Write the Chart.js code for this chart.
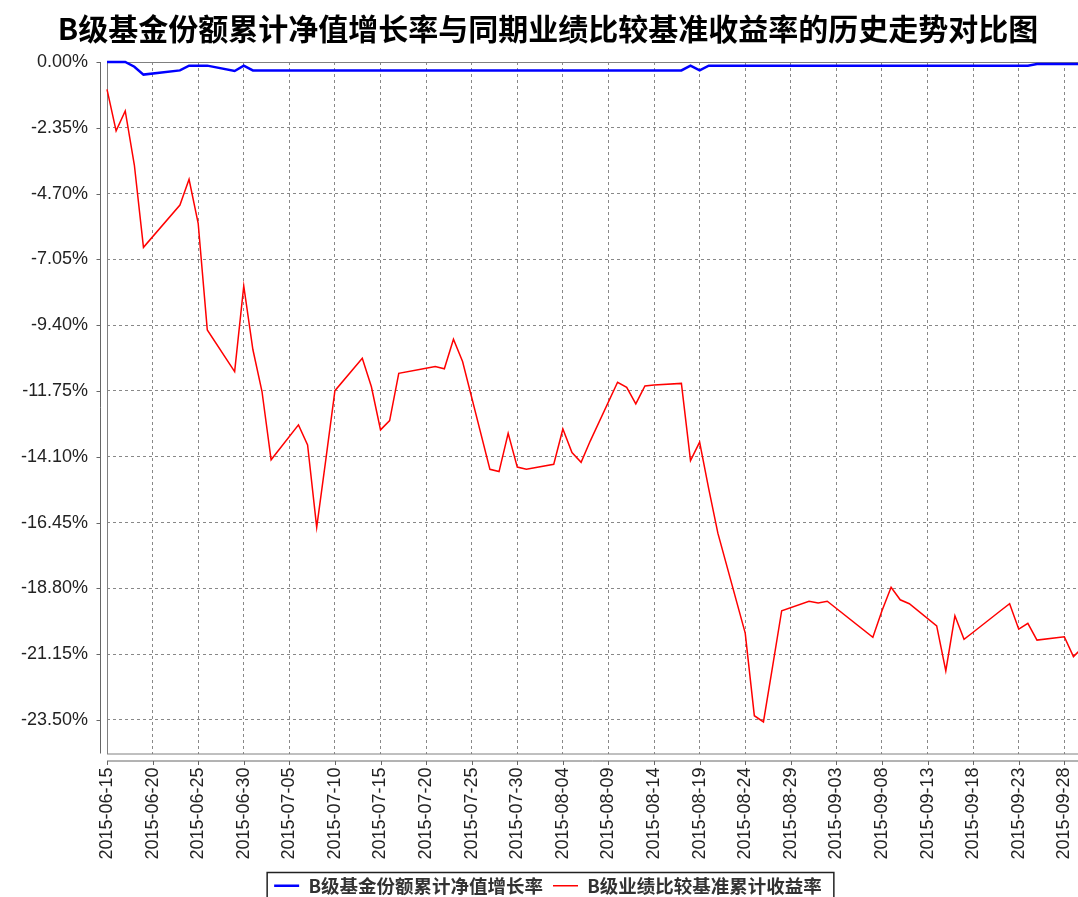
<!DOCTYPE html>
<html>
<head>
<meta charset="utf-8">
<script src="https://cdn.jsdelivr.net/npm/chart.js@4.4.0/dist/chart.umd.min.js"></script>
<style>
  html, body { margin: 0; padding: 0; background: #fff; overflow: hidden; }
</style>
</head>
<body>
<canvas id="chart" width="1078" height="897"></canvas>
<script>
// trading days shown in the chart
const dates = [
  '2015-06-15','2015-06-16','2015-06-17','2015-06-18','2015-06-19','2015-06-23','2015-06-24','2015-06-25','2015-06-26','2015-06-29','2015-06-30',
  '2015-07-01','2015-07-02','2015-07-03','2015-07-06','2015-07-07','2015-07-08','2015-07-09','2015-07-10','2015-07-13','2015-07-14','2015-07-15','2015-07-16','2015-07-17',
  '2015-07-20','2015-07-21','2015-07-22','2015-07-23','2015-07-24','2015-07-27','2015-07-28','2015-07-29','2015-07-30','2015-07-31',
  '2015-08-03','2015-08-04','2015-08-05','2015-08-06','2015-08-07','2015-08-10','2015-08-11','2015-08-12','2015-08-13','2015-08-14',
  '2015-08-17','2015-08-18','2015-08-19','2015-08-20','2015-08-21','2015-08-24','2015-08-25','2015-08-26','2015-08-27','2015-08-28','2015-08-31',
  '2015-09-01','2015-09-02','2015-09-07','2015-09-08','2015-09-09','2015-09-10','2015-09-11','2015-09-14','2015-09-15','2015-09-16','2015-09-17','2015-09-18',
  '2015-09-21','2015-09-22','2015-09-23','2015-09-24','2015-09-25','2015-09-28','2015-09-29','2015-09-30'
];

// B级基金份额累计净值增长率 (%)
const navGrowth = [
  0, 0, 0, -0.17, -0.45, -0.30, -0.13, -0.13, -0.13, -0.32, -0.13,
  -0.30, -0.30, -0.30, -0.30, -0.30, -0.30, -0.30, -0.30, -0.30, -0.30, -0.30, -0.30, -0.30,
  -0.30, -0.30, -0.30, -0.30, -0.30, -0.30, -0.30, -0.30, -0.30, -0.30,
  -0.30, -0.30, -0.30, -0.30, -0.30, -0.30, -0.30, -0.30, -0.30, -0.30,
  -0.30, -0.13, -0.30, -0.13, -0.13, -0.13, -0.13, -0.13, -0.13, -0.13, -0.13,
  -0.13, -0.13, -0.13, -0.13, -0.13, -0.13, -0.13, -0.13, -0.13, -0.13, -0.13, -0.13,
  -0.13, -0.13, -0.13, -0.13, -0.07, -0.07, -0.07, -0.07
];

// B级业绩比较基准累计收益率 (%)
const benchmark = [
  -0.98, -2.46, -1.75, -3.68, -6.62, -5.11, -4.19, -5.76, -9.57, -11.06, -8.00,
  -10.27, -11.77, -14.21, -12.96, -13.68, -16.62, -14.20, -11.74, -10.58, -11.60, -13.14, -12.81, -11.12,
  -10.94, -10.88, -10.96, -9.90, -10.70, -14.55, -14.63, -13.26, -14.47, -14.55,
  -14.37, -13.11, -13.95, -14.30, -13.54, -11.44, -11.62, -12.21, -11.57, -11.54,
  -11.48, -14.24, -13.58, -15.25, -16.83, -20.40, -23.35, -23.57, -21.60, -19.60, -19.26,
  -19.32, -19.26, -20.55, -19.60, -18.76, -19.21, -19.35, -20.14, -21.75, -19.78, -20.62, -20.37,
  -19.60, -19.35, -20.26, -20.05, -20.65, -20.53, -21.24, -20.92
];

const xTickLabels = [
  '2015-06-15','2015-06-20','2015-06-25','2015-06-30','2015-07-05','2015-07-10','2015-07-15','2015-07-20',
  '2015-07-25','2015-07-30','2015-08-04','2015-08-09','2015-08-14','2015-08-19','2015-08-24','2015-08-29',
  '2015-09-03','2015-09-08','2015-09-13','2015-09-18','2015-09-23','2015-09-28'
];
const yTickValues = [0, -2.35, -4.70, -7.05, -9.40, -11.75, -14.10, -16.45, -18.80, -21.15, -23.50];

// days since the first date, used as the linear x value
const t0 = Date.UTC(2015, 5, 15);
const toDay = s => (Date.UTC(+s.slice(0, 4), +s.slice(5, 7) - 1, +s.slice(8, 10)) - t0) / 86400000;

const tickFont = { family: "'Liberation Sans', Arial, sans-serif", size: 18 };

// plot frame plus the offset axis lines with their tick marks
const frame = {
  id: 'frame',
  beforeDatasetsDraw(chart) {
    const { ctx, chartArea: a, scales: { x, y } } = chart;
    ctx.save();
    ctx.setLineDash([]);
    ctx.lineWidth = 1;
    ctx.strokeStyle = '#808080';
    ctx.strokeRect(a.left + 0.5, a.top + 0.5, a.width, a.bottom - a.top);
    ctx.strokeStyle = '#666';
    ctx.beginPath();
    const ax = a.left - 6.5;
    ctx.moveTo(ax, a.top);
    ctx.lineTo(ax, a.bottom);
    y.ticks.forEach(t => {
      const py = Math.round(y.getPixelForValue(t.value)) + 0.5;
      ctx.moveTo(ax - 4, py);
      ctx.lineTo(ax, py);
    });
    const ay = a.bottom + 7.5;
    ctx.moveTo(a.left, ay);
    ctx.lineTo(a.right, ay);
    x.ticks.forEach(t => {
      const px = Math.round(x.getPixelForValue(t.value)) + 0.5;
      ctx.moveTo(px, ay);
      ctx.lineTo(px, ay + 4);
    });
    ctx.stroke();
    ctx.restore();
  }
};

// box around the legend
const legendBox = {
  id: 'legendBox',
  afterDraw(chart) {
    const boxes = chart.legend.legendHitBoxes;
    if (!boxes || !boxes.length) return;
    const first = boxes[0], last = boxes[boxes.length - 1];
    const l = first.left - 7, r = last.left + last.width + 12, t = first.top - 4;
    const ctx = chart.ctx;
    ctx.save();
    ctx.lineWidth = 1.5;
    ctx.strokeStyle = '#222';
    ctx.strokeRect(l, t, r - l, 60);
    ctx.restore();
  }
};

new Chart(document.getElementById('chart'), {
  type: 'line',
  data: {
    datasets: [{
      label: 'B级基金份额累计净值增长率',
      data: dates.map((d, i) => ({ x: toDay(d), y: navGrowth[i] })),
      borderColor: '#0000ff',
      backgroundColor: '#0000ff',
      borderWidth: 2.5,
      pointRadius: 0,
      tension: 0,
      clip: false
    }, {
      label: 'B级业绩比较基准累计收益率',
      data: dates.map((d, i) => ({ x: toDay(d), y: benchmark[i] })),
      borderColor: '#ff0000',
      backgroundColor: '#ff0000',
      borderWidth: 1.5,
      pointRadius: 0,
      tension: 0,
      clip: false
    }]
  },
  options: {
    responsive: false,
    animation: false,
    devicePixelRatio: 1,
    layout: { padding: { left: 18, right: 0, top: 0, bottom: -8 } },
    plugins: {
      title: {
        display: true,
        text: 'B级基金份额累计净值增长率与同期业绩比较基准收益率的历史走势对比图',
        color: '#000',
        font: { family: "'Noto Sans CJK SC', sans-serif", size: 30, weight: 'bold' },
        padding: { top: 11, bottom: 15 }
      },
      legend: {
        position: 'bottom',
        labels: {
          usePointStyle: true,
          pointStyle: 'line',
          pointStyleWidth: 25,
          padding: 10,
          color: '#333',
          font: { family: "'Noto Sans CJK SC', sans-serif", size: 18.5, weight: 'bold' }
        }
      },
      tooltip: { enabled: false }
    },
    scales: {
      x: {
        type: 'linear',
        min: 0,
        max: 106.5,
        afterBuildTicks: s => { s.ticks = xTickLabels.map(l => ({ value: toDay(l) })); },
        afterFit: s => { s.height = 113; s.paddingLeft = 0; s.paddingRight = 0; },
        ticks: {
          autoSkip: false,
          minRotation: 90,
          maxRotation: 90,
          padding: 14,
          color: '#222',
          font: tickFont,
          callback: (v, i) => xTickLabels[i]
        },
        grid: { color: '#888', lineWidth: 1, drawTicks: false },
        border: { display: false, dash: [3, 3] }
      },
      y: {
        min: -24.7,
        max: 0,
        afterBuildTicks: s => { s.ticks = yTickValues.map(v => ({ value: v })); },
        afterFit: s => { s.width = 89; },
        ticks: {
          padding: 19,
          color: '#222',
          font: tickFont,
          callback: v => v.toFixed(2) + '%'
        },
        grid: { color: '#888', lineWidth: 1, drawTicks: false },
        border: { display: false, dash: [3, 3] }
      }
    }
  },
  plugins: [frame, legendBox]
});
</script>
</body>
</html>
